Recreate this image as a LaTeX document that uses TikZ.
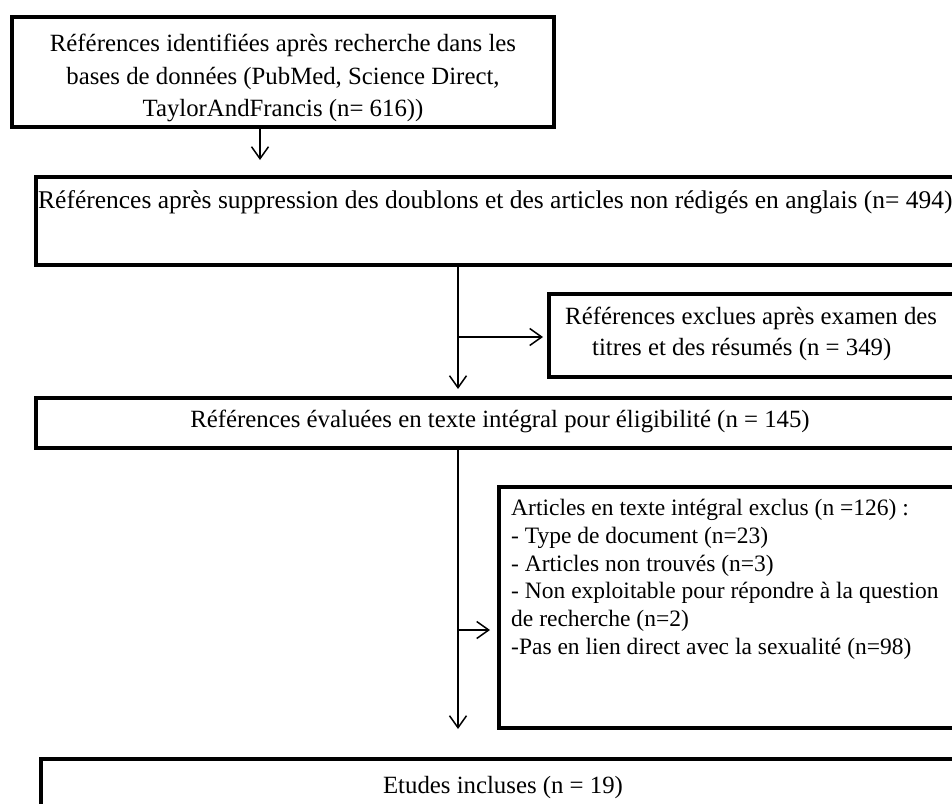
\documentclass[tikz,border=0pt]{standalone}
\usepackage{fontspec}
\setmainfont{Liberation Serif}
\usetikzlibrary{arrows.meta, positioning}

\begin{document}
\begin{tikzpicture}[x=1pt, y=-1pt,
    box/.style={rectangle, draw, line width=4pt, anchor=north west, inner sep=0pt},
    txt/.style={inner sep=0pt, font=\fontsize{24.8}{31}\selectfont},
    arrow/.style={-{Straight Barb[length=12pt,width=17pt]}, line width=1.5pt}
]
    \useasboundingbox (0,0) rectangle (952,803);
    \clip (0,0) rectangle (952,803);

    % Boxes
    \node[box, minimum width=542pt, minimum height=110pt] (ident) at (10,15) {};
    \node[box, minimum width=946pt, minimum height=88pt] (dedup) at (34,175) {};
    \node[box, minimum width=430pt, minimum height=83pt] (screen) at (547,292) {};
    \node[box, minimum width=946pt, minimum height=50pt] (fulltext) at (34,396) {};
    \node[box, minimum width=480pt, minimum height=241pt] (excl) at (497,485) {};
    \node[box, minimum width=940pt, minimum height=90pt] (incl) at (39,757) {};

    % Texts
    \node[txt, align=center, font=\fontsize{24.8}{32.5}\selectfont] (ident_txt) at (283,78)
        {Références identifiées après recherche dans les\\bases de données (PubMed, Science Direct,\\TaylorAndFrancis (n= 616))};
    \node[txt, anchor=west, font=\fontsize{25.5}{31}\selectfont] (dedup_txt) at (38,202)
        {Références après suppression des doublons et des articles non rédigés en anglais (n= 494)};
    \node[txt, anchor=west, align=left] (screen_txt) at (565,334)
        {Références exclues après examen des\\\hspace*{27pt}titres et des résumés (n = 349)};
    \node[txt, anchor=center] (fulltext_txt) at (500,421)
        {Références évaluées en texte intégral pour éligibilité (n = 145)};
    \node[txt, anchor=north west, align=left, font=\fontsize{23.5}{27.8}\selectfont] (excl_txt) at (511,499)
        {Articles en texte intégral exclus (n =126) :\\
         - Type de document (n=23)\\
         - Articles non trouvés (n=3)\\
         - Non exploitable pour répondre à la question\\
         de recherche (n=2)\\
         -Pas en lien direct avec la sexualité (n=98)};
    \node[txt, anchor=center] (incl_txt) at (503,788) {Etudes incluses (n = 19)};

    % Arrows
    \coordinate (col1) at (260,0);
    \coordinate (col2) at (458,0);
    \coordinate (fork1) at (458,337);
    \coordinate (fork2) at (458,630);
    \draw[arrow, shorten >=15pt] (ident.south -| col1) -- (dedup.north -| col1);
    \draw[arrow, shorten >=7pt] (dedup.south -| col2) -- (fulltext.north -| col2);
    \draw[arrow, shorten >=4pt] (fork1) -- (fork1 -| screen.west);
    \draw[arrow, shorten >=28pt] (fulltext.south -| col2) -- (incl.north -| col2);
    \draw[arrow, shorten >=7pt] (fork2) -- (fork2 -| excl.west);
\end{tikzpicture}
\end{document}
